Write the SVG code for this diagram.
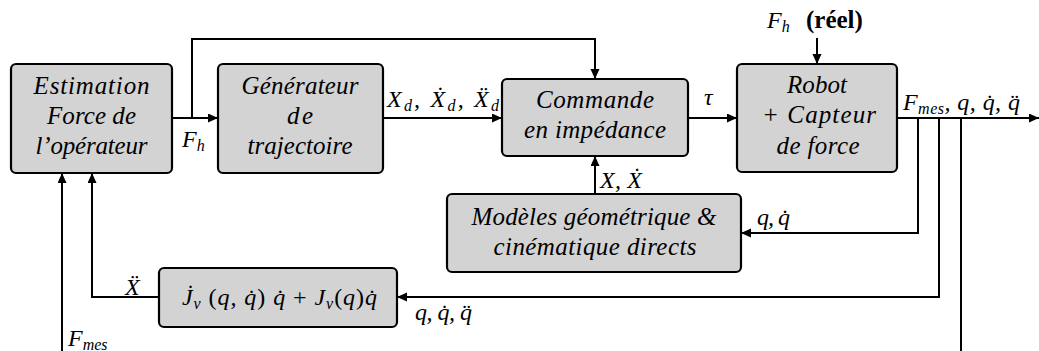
<svg xmlns="http://www.w3.org/2000/svg" width="1039" height="351" viewBox="0 0 1039 351">
<style>
.box{fill:#d3d3d3;stroke:#000;stroke-width:2.2}
.t{font-family:"Liberation Serif","DejaVu Serif",serif;font-style:italic;font-size:25px;text-anchor:middle;fill:#000}
.m{font-family:"Liberation Serif","DejaVu Serif",serif;font-style:italic;font-size:24px;fill:#000}
.s{font-size:16px}
.u{font-style:normal}
.b{font-family:"Liberation Serif","DejaVu Serif",serif;font-style:normal;font-weight:bold;font-size:25px;fill:#000}
.ln{fill:none;stroke:#000;stroke-width:2}
</style>
<defs>
<marker id="ah" markerUnits="userSpaceOnUse" markerWidth="11" markerHeight="10" refX="10" refY="4.5" orient="auto">
<path d="M0,0 L10,4.5 L0,9 z" fill="#000"/>
</marker>
</defs>
<g id="connectors">
<path class="ln" d="M172,118 H218" marker-end="url(#ah)"/>
<path class="ln" d="M192,118 V39 H595 V79" marker-end="url(#ah)"/>
<path class="ln" d="M383,118 H502" marker-end="url(#ah)"/>
<path class="ln" d="M688,118 H737" marker-end="url(#ah)"/>
<path class="ln" d="M817,38 V64" marker-end="url(#ah)"/>
<path class="ln" d="M897,118 H1039" marker-end="url(#ah)"/>
<path class="ln" d="M918,118 V233 H741" marker-end="url(#ah)"/>
<path class="ln" d="M939,118 V297 H397" marker-end="url(#ah)"/>
<path class="ln" d="M961,118 V351"/>
<path class="ln" d="M595,194 V156" marker-end="url(#ah)"/>
<path class="ln" d="M159,297 H92 V173" marker-end="url(#ah)"/>
<path class="ln" d="M62,351 V173" marker-end="url(#ah)"/>
<text class="m" x="182" y="147">F<tspan class="s" dy="4">h</tspan></text>
<text class="m" x="387" y="107" textLength="112">X<tspan class="s" dy="4">d</tspan><tspan dy="-4">, X&#x307;</tspan><tspan class="s" dy="4">d</tspan><tspan dy="-4">, X&#x308;</tspan><tspan class="s" dy="4">d</tspan></text>
<text class="m" x="704" y="105">τ</text>
<text class="m" x="767" y="28">F<tspan class="s" dy="4">h</tspan></text>
<text class="b" x="806" y="28">(réel)</text>
<text class="m" x="903" y="110" textLength="117">F<tspan class="s" dy="4">mes</tspan><tspan dy="-4">, q, q&#x307;, q&#x308;</tspan></text>
<text class="m" x="600" y="188" textLength="42">X, X&#x307;</text>
<text class="m" x="757" y="225" textLength="33">q, q&#x307;</text>
<text class="m" x="415" y="320" textLength="57">q, q&#x307;, q&#x308;</text>
<text class="m" x="125" y="295">X&#x308;</text>
<text class="m" x="68" y="346">F<tspan class="s" dy="4">mes</tspan></text>
</g>
<g id="estimation">
<rect class="box" x="11" y="64" width="161" height="109" rx="5"/>
<text class="t" x="91.5" y="94" textLength="116">Estimation</text>
<text class="t" x="91.5" y="124" textLength="89">Force de</text>
<text class="t" x="91.5" y="154" textLength="112">l’opérateur</text>
</g>
<g id="generateur">
<rect class="box" x="218" y="64" width="165" height="109" rx="5"/>
<text class="t" x="300" y="94" textLength="117">Générateur</text>
<text class="t" x="300" y="124" textLength="26">de</text>
<text class="t" x="300" y="154" textLength="105">trajectoire</text>
</g>
<g id="commande">
<rect class="box" x="502" y="79" width="186" height="77" rx="5"/>
<text class="t" x="595" y="108" textLength="118">Commande</text>
<text class="t" x="595" y="138" textLength="142">en impédance</text>
</g>
<g id="robot">
<rect class="box" x="737" y="64" width="160" height="108" rx="5"/>
<text class="t" x="817" y="93" textLength="60">Robot</text>
<text class="t" x="819" y="123" textLength="114">+ Capteur</text>
<text class="t" x="818" y="154" textLength="83">de force</text>
</g>
<g id="modeles">
<rect class="box" x="447" y="194" width="294" height="78" rx="5"/>
<text class="t" x="594" y="225" textLength="245">Modèles géométrique &amp;</text>
<text class="t" x="595" y="255" textLength="203">cinématique directs</text>
</g>
<g id="jacobien">
<rect class="box" x="159" y="268" width="238" height="59" rx="5"/>
<text class="m" x="182" y="305" textLength="195">J&#x307;<tspan class="s" dy="4">v</tspan><tspan dy="-4" class="u"> (</tspan>q, q&#x307;<tspan class="u">) </tspan>q&#x307; <tspan class="u">+</tspan> J<tspan class="s" dy="4">v</tspan><tspan dy="-4" class="u">(</tspan>q<tspan class="u">)</tspan>q&#x307;</text>
</g>
</svg>
